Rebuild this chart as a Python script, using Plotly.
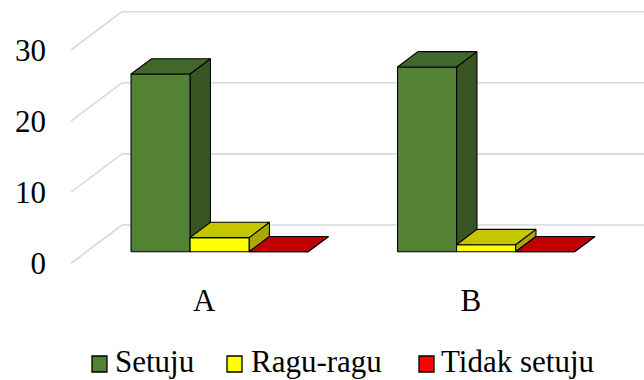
import plotly.graph_objects as go

# ---- data -------------------------------------------------------------
categories = ["A", "B"]
series_names = ["Setuju", "Ragu-ragu", "Tidak setuju"]
setuju = [25, 26]
ragu_ragu = [2, 1]
tidak_setuju = [0, 0]
y_ticks = [0, 10, 20, 30]

series_values = [setuju, ragu_ragu, tidak_setuju]

# ---- styling ----------------------------------------------------------
front_colors = ["#548235", "#FFFF00", "#FF0000"]
top_colors = ["#42672A", "#C6C600", "#C00000"]
side_colors = ["#375622", "#A8A800", "#9E0000"]
legend_colors = front_colors
grid_color = "#D9D9D9"
FONT = "Liberation Serif"
FS = 31

W, H = 644, 380
ML, MR, MT, MB = 71, 0, 0, 110
PX_PER_CAT = 266.5     # horizontal pixels per category
PX_PER_UNIT = 7.11     # vertical pixels per value unit

# oblique depth of the chart floor, expressed in axis units
DX = 51 / PX_PER_CAT
DY = 38.3 / PX_PER_UNIT
Z0, Z1 = 0.30, 0.70          # bar front / back as a fraction of the depth
BAR_W = 59 / PX_PER_CAT      # bar width in category units

plot_w = W - ML - MR
plot_h = H - MT - MB
x_range = [-0.5, -0.5 + plot_w / PX_PER_CAT]
y_top = 263.3 / PX_PER_UNIT
y_range = [y_top - plot_h / PX_PER_UNIT, y_top]


def proj(x, y, z):
    """Oblique projection of a point at depth fraction z."""
    return x + z * DX, y + z * DY


def polygon(points):
    xs, ys = zip(*[proj(*p) for p in points])
    return list(xs) + [xs[0]], list(ys) + [ys[0]]


fig = go.Figure()

# ---- walls: back-wall and side-wall gridlines --------------------------
gx, gy = [], []
x_left = x_range[0]
for t in y_ticks:
    # side wall (diagonal)
    ax, ay = proj(x_left, t, 0)
    bx, by = proj(x_left, t, 1)
    gx += [ax, bx, None]
    gy += [ay, by, None]
    # back wall (horizontal)
    gx += [bx, x_range[1] + 1, None]
    gy += [by, by, None]
fig.add_trace(go.Scatter(x=gx, y=gy, mode="lines",
                         line=dict(color=grid_color, width=1.6),
                         hoverinfo="skip", showlegend=False))

# ---- 3-D bars ------------------------------------------------------------
for i, cat in enumerate(categories):
    for j, name in enumerate(series_names):
        v = series_values[j][i]
        x0 = i - 1.5 * BAR_W + j * BAR_W
        x1 = x0 + BAR_W
        faces = [
            ([(x1, 0, Z0), (x1, 0, Z1), (x1, v, Z1), (x1, v, Z0)], side_colors[j]),
            ([(x0, 0, Z0), (x1, 0, Z0), (x1, v, Z0), (x0, v, Z0)], front_colors[j]),
            ([(x0, v, Z0), (x1, v, Z0), (x1, v, Z1), (x0, v, Z1)], top_colors[j]),
        ]
        for pts, col in faces:
            px_, py_ = polygon(pts)
            fig.add_trace(go.Scatter(
                x=px_, y=py_, mode="lines", fill="toself", fillcolor=col,
                line=dict(color="#000000", width=1.1),
                name=name, hovertemplate=f"{cat} – {name}: {v}<extra></extra>",
                showlegend=False))

# ---- legend (drawn as swatches + labels below the plot) -------------------
def xp(px):
    return (px - ML) / plot_w


def yp(py):
    return (MT + plot_h - py) / plot_h


legend_swatch_x = [92, 227, 419]
legend_text_x = [113, 249, 439]
legend_swatch_y = 364
legend_text_y = 361
shapes = []
annotations = []
for k, name in enumerate(series_names):
    shapes.append(dict(type="rect", xref="paper", yref="paper",
                       x0=xp(legend_swatch_x[k]), x1=xp(legend_swatch_x[k] + 15),
                       y0=yp(legend_swatch_y + 8), y1=yp(legend_swatch_y - 8),
                       fillcolor=legend_colors[k],
                       line=dict(color="#000000", width=1.3)))
    annotations.append(dict(xref="paper", yref="paper",
                            x=xp(legend_text_x[k]), y=yp(legend_text_y),
                            xanchor="left", yanchor="middle", showarrow=False,
                            text=name, font=dict(family=FONT, size=FS, color="#000000")))

fig.update_layout(
    width=W, height=H,
    margin=dict(l=ML, r=MR, t=MT, b=MB, pad=0),
    paper_bgcolor="white", plot_bgcolor="white",
    showlegend=False,
    shapes=shapes, annotations=annotations,
    font=dict(family=FONT, size=FS, color="#000000"),
    xaxis=dict(range=x_range, tickvals=list(range(len(categories))),
               ticktext=categories, showgrid=False, zeroline=False,
               showline=False, ticks="", ticklabelstandoff=9,
               fixedrange=True),
    yaxis=dict(range=y_range, tickvals=y_ticks, showgrid=False,
               zeroline=False, showline=False, ticks="",
               ticklabelstandoff=24, fixedrange=True),
)

fig.write_html("out.html", config={"displayModeBar": False})
